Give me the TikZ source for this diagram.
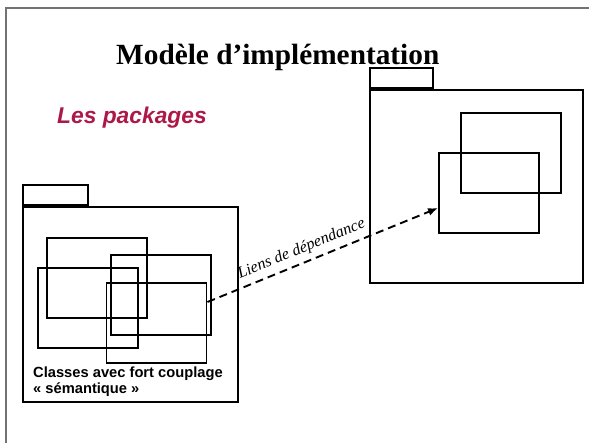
\documentclass[tikz,border=0pt]{standalone}
\usepackage{fontspec}
\setmainfont{Liberation Serif}
\setsansfont{Liberation Sans}
\usetikzlibrary{arrows.meta}
\definecolor{pkgred}{RGB}{172,24,72}
\tikzset{
  pkg/.style={draw, line width=2.4pt, inner sep=0pt, minimum width=#1},
  pkgtab/.style={draw, line width=2.2pt, inner sep=0pt, anchor=south west, minimum width=#1, minimum height=20},
  cls/.style={draw, line width=1.9pt, inner sep=0pt, minimum width=100, minimum height=80},
  dep/.style={line width=1.9pt, dash pattern=on 8pt off 5pt, -{Latex[length=10pt,width=8pt]}}
}
\begin{document}
\begin{tikzpicture}[x=1pt, y=-1pt]
    \useasboundingbox (0,0) rectangle (589,443);
    \draw[line width=1.2pt, black!55] (6,443) -- (6,8) -- (589,8);
    \node [anchor=base west, inner sep=0pt, font=\fontsize{29.3}{35}\selectfont\bfseries] (title) at (116,65) {Modèle d’implémentation};
    \node [anchor=base west, inner sep=0pt, pkgred, font=\fontsize{22.8}{27}\selectfont\sffamily\bfseries\itshape] (sub) at (57,124) {Les packages};
    % package de gauche
    \node [pkg=215, minimum height=195] (left) at (130.5,304.5) {};
    \node [pkgtab=65] (lefttab) at (left.north west) {};
    \node [cls] (a) at (97,278) {};
    \node [cls] (b) at (88,308) {};
    \node [cls] (c) at (161,295) {};
    \node [cls] (d) at (156.5,323) {};
    \node [anchor=north west, inner sep=0pt, align=left, font=\fontsize{14.7}{15.5}\selectfont\sffamily\bfseries] (note) at (33,367) {Classes avec fort couplage\\« sémantique »};
    % package de droite
    \node [pkg=213, minimum height=193] (right) at (476.5,186.5) {};
    \node [pkgtab=63] (righttab) at (right.north west) {};
    \node [cls] (e) at (511,153) {};
    \node [cls] (f) at (489,193) {};
    \draw [dep] ([yshift=21pt]d.east) -- node [sloped, above=5pt, pos=0.43, inner sep=0pt, font=\fontsize{16.2}{19}\selectfont\itshape] {Liens de dépendance} ([yshift=-15pt]f.west);
\end{tikzpicture}
\end{document}
